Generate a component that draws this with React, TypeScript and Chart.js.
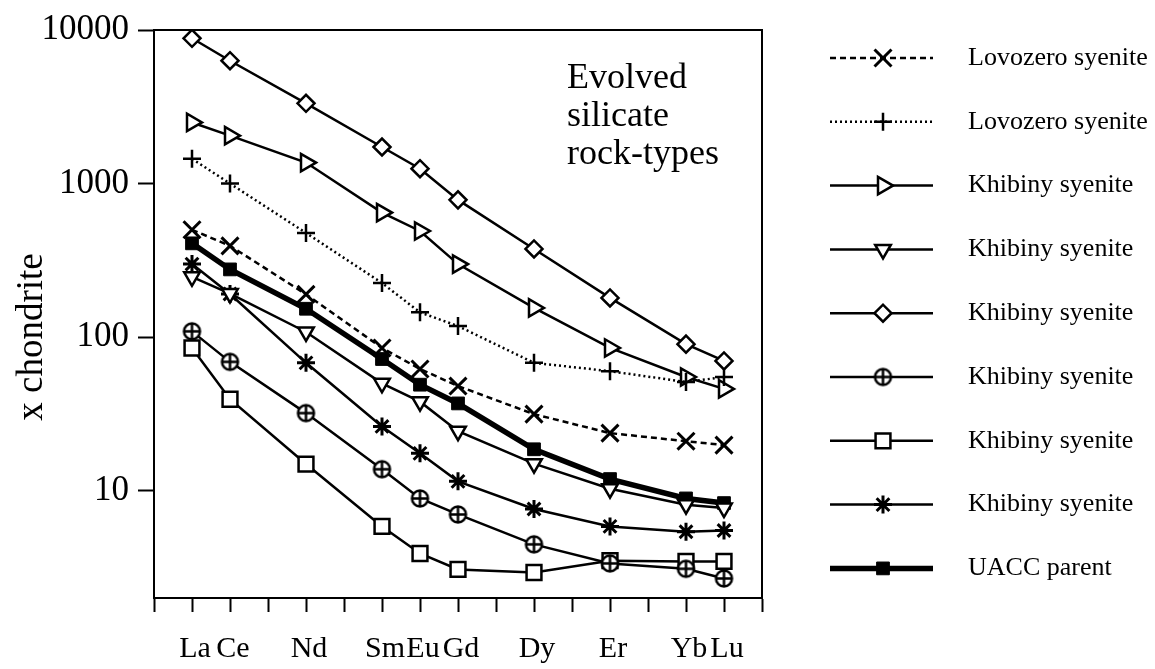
import React, { useEffect, useRef } from 'react';
import { Chart, registerables } from 'chart.js';
import { drawPoint } from 'chart.js/helpers';

Chart.register(...registerables);

// ---- data ----
const elementLabels = ['La', 'Ce', 'Nd', 'Sm', 'Eu', 'Gd', 'Dy', 'Er', 'Yb', 'Lu'];
const atomicNumbers = [57, 58, 60, 62, 63, 64, 66, 68, 70, 71];
const seriesNames = [
  'Lovozero syenite',
  'Lovozero syenite',
  'Khibiny syenite',
  'Khibiny syenite',
  'Khibiny syenite',
  'Khibiny syenite',
  'Khibiny syenite',
  'Khibiny syenite',
  'UACC parent',
];
const lovozeroCross = [500, 393, 190, 85, 62, 48, 31.5, 23.7, 21, 19.8];
const lovozeroPlus = [1450, 1000, 477, 225, 145, 118, 68, 60, 51, 55];
const khibinyRightTri = [2500, 2050, 1370, 647, 491, 299, 155, 85, 55, 46];
const khibinyDownTri = [247, 192, 108, 50, 38, 24.4, 15, 10.3, 8.1, 7.7];
const khibinyDiamond = [8830, 6310, 3330, 1730, 1250, 783, 375, 180, 90, 70];
const khibinyCirclePlus = [109, 69, 32, 13.8, 8.9, 7.0, 4.47, 3.36, 3.1, 2.68];
const khibinySquare = [85, 39.4, 14.9, 5.85, 3.9, 3.07, 2.93, 3.5, 3.46, 3.46];
const khibinyStar = [299, 191, 68, 26.2, 17.5, 11.5, 7.6, 5.85, 5.4, 5.5];
const uaccParent = [408, 276, 153, 72, 49, 37, 18.6, 11.9, 8.9, 8.3];
const yTickValues = [10, 100, 1000, 10000];
const annotationLines = ['Evolved', 'silicate', 'rock-types'];
const yAxisTitle = 'x chondrite';

const FONT = '"Liberation Serif", "Times New Roman", serif';

function makeCirclePlus(r: number, lw: number) {
  const size = Math.ceil(2 * r + lw + 2);
  const c = document.createElement('canvas');
  c.width = size;
  c.height = size;
  const ctx = c.getContext('2d')!;
  const m = size / 2;
  ctx.lineWidth = lw;
  ctx.strokeStyle = '#000';
  ctx.fillStyle = '#fff';
  ctx.beginPath();
  ctx.arc(m, m, r, 0, Math.PI * 2);
  ctx.fill();
  ctx.stroke();
  ctx.beginPath();
  ctx.moveTo(m - r, m);
  ctx.lineTo(m + r, m);
  ctx.moveTo(m, m - r);
  ctx.lineTo(m, m + r);
  ctx.stroke();
  return c;
}

function toPoints(values: number[]) {
  return values.map((v, i) => ({ x: atomicNumbers[i], y: v }));
}

export default function App() {
  const canvasRef = useRef<HTMLCanvasElement | null>(null);

  useEffect(() => {
    const canvas = canvasRef.current;
    if (!canvas) return;
    const circlePlus = makeCirclePlus(8, 2.5);

    const base = {
      borderColor: '#000',
      pointBorderColor: '#000',
      pointBackgroundColor: '#fff',
      borderWidth: 2.5,
      pointBorderWidth: 2.5,
      tension: 0,
      fill: false,
    };

    const datasets: any[] = [
      { ...base, label: seriesNames[0], data: toPoints(lovozeroCross), borderDash: [6, 4], pointStyle: 'crossRot', pointRadius: 12, pointBorderWidth: 3 },
      { ...base, label: seriesNames[1], data: toPoints(lovozeroPlus), borderDash: [2, 3], pointStyle: 'cross', pointRadius: 9, pointBorderWidth: 2.5 },
      { ...base, label: seriesNames[2], data: toPoints(khibinyRightTri), pointStyle: 'triangle', pointRotation: 90, pointRadius: 10 },
      { ...base, label: seriesNames[3], data: toPoints(khibinyDownTri), pointStyle: 'triangle', pointRotation: 180, pointRadius: 9 },
      { ...base, label: seriesNames[4], data: toPoints(khibinyDiamond), pointStyle: 'rectRot', pointRadius: 8.5 },
      { ...base, label: seriesNames[5], data: toPoints(khibinyCirclePlus), pointStyle: circlePlus, pointRadius: 8 },
      { ...base, label: seriesNames[6], data: toPoints(khibinySquare), pointStyle: 'rect', pointRadius: 10.5 },
      { ...base, label: seriesNames[7], data: toPoints(khibinyStar), pointStyle: 'star', pointRadius: 9, pointBorderWidth: 3 },
      { ...base, label: seriesNames[8], data: toPoints(uaccParent), borderWidth: 5.5, pointStyle: 'rect', pointRadius: 9, pointBackgroundColor: '#000', pointBorderWidth: 1 },
    ];

    const overlay = {
      id: 'overlay',
      afterDraw(chart: any) {
        const ctx = chart.ctx as CanvasRenderingContext2D;
        const a = chart.chartArea;
        ctx.save();
        ctx.strokeStyle = '#000';
        ctx.lineWidth = 2;
        ctx.setLineDash([]);
        ctx.strokeRect(a.left, a.top, a.right - a.left, a.bottom - a.top);

        ctx.fillStyle = '#000';
        ctx.textAlign = 'left';
        ctx.textBaseline = 'alphabetic';
        ctx.font = `36px ${FONT}`;
        annotationLines.forEach((t, i) => ctx.fillText(t, 567, 88 + i * 38));

        ctx.save();
        ctx.translate(42, 337);
        ctx.rotate(-Math.PI / 2);
        ctx.textAlign = 'center';
        ctx.font = `37px ${FONT}`;
        ctx.fillText(yAxisTitle, 0, 0);
        ctx.restore();

        // legend
        const x0 = 830, x1 = 933, xm = 883, tx = 968;
        chart.data.datasets.forEach((ds: any, i: number) => {
          const y = 58 + i * 63.8;
          ctx.save();
          ctx.strokeStyle = '#000';
          ctx.lineWidth = ds.borderWidth;
          ctx.setLineDash(ds.borderDash || []);
          ctx.beginPath();
          ctx.moveTo(x0, y);
          ctx.lineTo(x1, y);
          ctx.stroke();
          ctx.setLineDash([]);
          ctx.fillStyle = ds.pointBackgroundColor;
          ctx.strokeStyle = '#000';
          ctx.lineWidth = ds.pointBorderWidth;
          drawPoint(ctx, {
            pointStyle: ds.pointStyle,
            rotation: ds.pointRotation || 0,
            radius: ds.pointRadius,
            borderWidth: ds.pointBorderWidth,
          } as any, xm, y);
          ctx.restore();
          ctx.fillStyle = '#000';
          ctx.textAlign = 'left';
          ctx.textBaseline = 'middle';
          ctx.font = `26px ${FONT}`;
          ctx.fillText(ds.label, tx, y);
        });
        ctx.restore();
      },
    };

    const labelFor = (v: number) => {
      const idx = atomicNumbers.indexOf(v);
      return idx >= 0 ? elementLabels[idx] : '';
    };

    const chart = new Chart(canvas, {
      type: 'line',
      data: { datasets },
      options: {
        animation: false,
        responsive: false,
        devicePixelRatio: 1,
        layout: { padding: { left: 0, top: 29, right: 393, bottom: 0 } },
        plugins: { legend: { display: false }, tooltip: { enabled: false } },
        scales: {
          x: {
            type: 'linear',
            min: 56,
            max: 72,
            afterFit: (scale: any) => { scale.height = 71; },
            ticks: {
              stepSize: 1,
              autoSkip: false,
              maxRotation: 0,
              padding: 19,
              labelOffset: 3,
              color: '#000',
              font: { family: FONT, size: 30 },
              callback: (v: any) => labelFor(Number(v)),
            },
            grid: { display: true, drawOnChartArea: false, drawTicks: true, tickLength: 14, tickWidth: 2, color: '#000' },
            border: { display: true, color: '#000', width: 2 },
          },
          y: {
            type: 'logarithmic',
            min: 2,
            max: 10000,
            afterFit: (scale: any) => { scale.width = 154; },
            afterBuildTicks: (scale: any) => { scale.ticks = yTickValues.map((v) => ({ value: v })); },
            ticks: {
              padding: 9,
              color: '#000',
              font: { family: FONT, size: 35 },
              callback: (v: any) => String(v),
            },
            grid: { display: true, drawOnChartArea: false, drawTicks: true, tickLength: 16, tickWidth: 2, color: '#000' },
            border: { display: true, color: '#000', width: 2 },
          },
        },
      },
      plugins: [overlay],
    });

    return () => chart.destroy();
  }, []);

  return (
    <div style={{ position: 'fixed', left: 0, top: 0, width: 1155, height: 669, background: '#fff' }}>
      <canvas ref={canvasRef} width={1155} height={669} style={{ display: 'block', width: 1155, height: 669 }} />
    </div>
  );
}
